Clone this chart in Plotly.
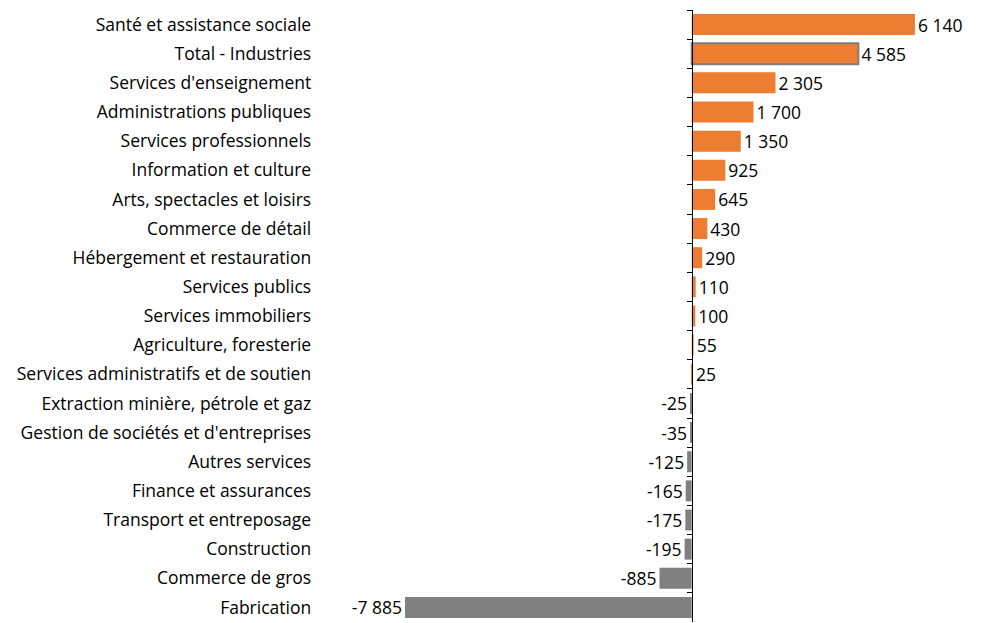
import plotly.graph_objects as go

categories = [
    "Santé et assistance sociale",
    "Total - Industries",
    "Services d'enseignement",
    "Administrations publiques",
    "Services professionnels",
    "Information et culture",
    "Arts, spectacles et loisirs",
    "Commerce de détail",
    "Hébergement et restauration",
    "Services publics",
    "Services immobiliers",
    "Agriculture, foresterie",
    "Services administratifs et de soutien",
    "Extraction minière, pétrole et gaz",
    "Gestion de sociétés et d'entreprises",
    "Autres services",
    "Finance et assurances",
    "Transport et entreposage",
    "Construction",
    "Commerce de gros",
    "Fabrication",
]
values = [6140, 4585, 2305, 1700, 1350, 925, 645, 430, 290, 110, 100, 55, 25,
          -25, -35, -125, -165, -175, -195, -885, -7885]
highlight = "Total - Industries"

ORANGE = "#ED7D31"
GRAY = "#808080"
FONT = "Open Sans"
FSIZE = 17.5

colors = [ORANGE if v > 0 else GRAY for v in values]
line_w = [2 if c == highlight else 0 for c in categories]
labels = [f"{v:,}".replace(",", " ") for v in values]

xmin, xmax = -18750, 7710
zero_pos = (0 - xmin) / (xmax - xmin)

fig = go.Figure(go.Bar(
    y=categories,
    x=values,
    orientation="h",
    marker=dict(color=colors, line=dict(color="#7F7F7F", width=line_w)),
    text=labels,
    textposition="outside",
    textfont=dict(family=FONT, size=FSIZE, color="#000000"),
    cliponaxis=False,
    constraintext="none",
    hoverinfo="skip",
))

fig.update_layout(
    width=982, height=623,
    margin=dict(l=10, r=10, t=10, b=1, autoexpand=False),
    plot_bgcolor="white",
    paper_bgcolor="white",
    bargap=0.28,
    showlegend=False,
    font=dict(family=FONT, size=FSIZE, color="#000000"),
    xaxis=dict(range=[xmin, xmax], showgrid=False, zeroline=False,
               showticklabels=False, showline=False, ticks="",
               automargin=False),
    yaxis=dict(
        type="category",
        autorange="reversed",
        anchor="free",
        position=zero_pos,
        automargin=False,
        showline=True, linecolor="#000000", linewidth=1,
        ticks="outside", tickson="boundaries", ticklen=5,
        tickcolor="#000000", tickwidth=1,
        showgrid=False,
        ticklabelstandoff=377,
        tickfont=dict(family=FONT, size=FSIZE, color="#000000"),
    ),
)

fig.write_html("out.html", config={"displayModeBar": False},
               post_script="document.body.style.margin='0';")
